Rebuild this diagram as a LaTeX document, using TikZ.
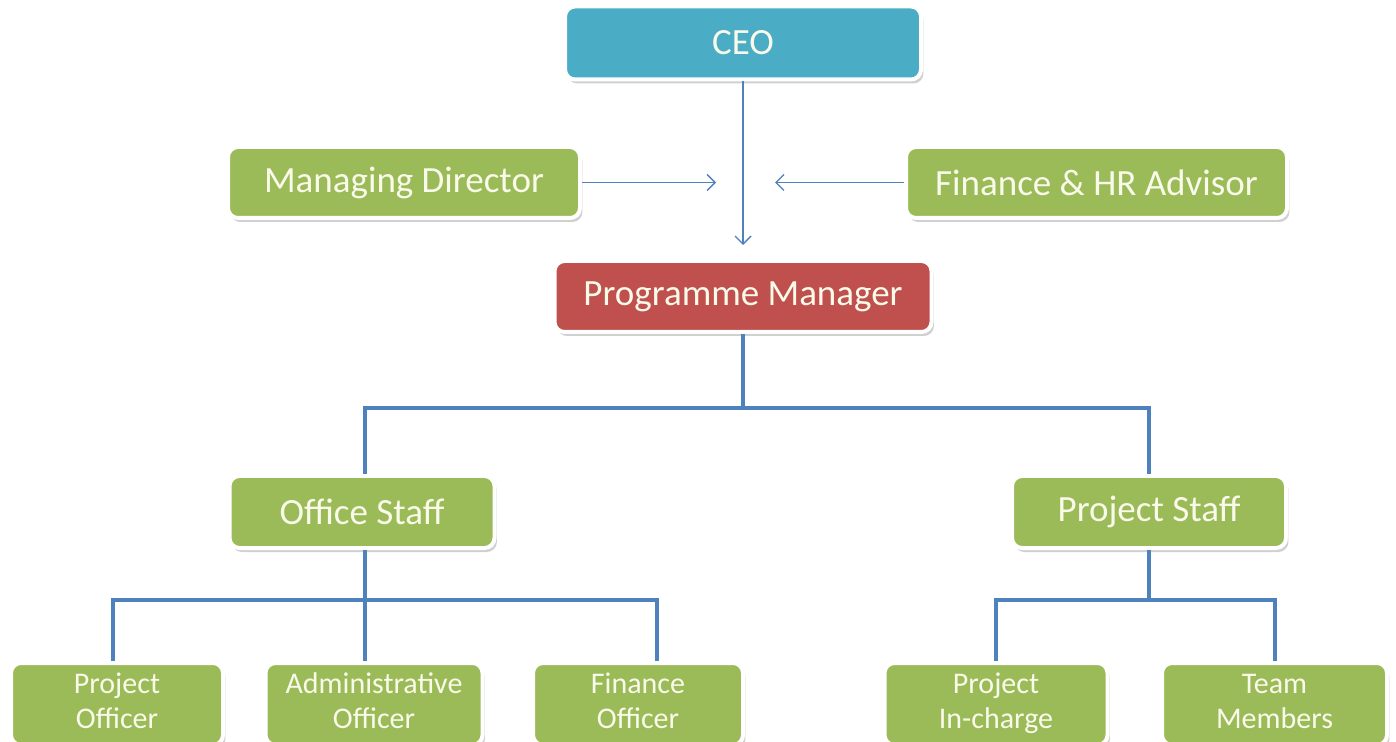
\documentclass[tikz,border=0pt]{standalone}
\usepackage{fontspec}
\setmainfont{Carlito}
\usetikzlibrary{shadows,arrows.meta}
\definecolor{ceoblue}{HTML}{4BACC6}
\definecolor{boxgreen}{HTML}{9BBB59}
\definecolor{boxred}{HTML}{C0504D}
\definecolor{linkblue}{HTML}{4F81BD}
\definecolor{txtcream}{HTML}{FAFAEA}
\newcommand\twoline[2]{\raisebox{2pt}{\begin{tabular}{@{}c@{}}#1\strut\\#2\strut\end{tabular}}}
\begin{document}
\begin{tikzpicture}[x=0.5pt,y=-0.5pt,
  box/.style={rectangle, rounded corners=5pt, draw=white, line width=2pt,
    text=txtcream, inner sep=0pt, align=center,
    drop shadow={shadow xshift=1.2pt, shadow yshift=-2pt, opacity=0.3, fill=black!60}},
  big/.style={box, font=\fontsize{18.5}{22}\selectfont},
  small/.style={box, font=\fontsize{15}{17.5}\selectfont, fill=boxgreen, minimum height=41pt},
  bus/.style={draw=linkblue, line width=2pt},
  thin/.style={draw=linkblue, line width=0.7pt, -{Straight Barb[length=4pt,width=8pt]}}
]
\useasboundingbox (0,0) rectangle (1396,742);
\fill[white] (0,0) rectangle (1396,742);

\node[big, fill=ceoblue, minimum width=178pt, minimum height=36.5pt] (ceo) at (743,43) {CEO};
\node[big, fill=boxgreen, minimum width=176pt, minimum height=35.5pt] (md) at (404,182.5) {Managing Director};
\node[big, fill=boxgreen, minimum width=190.5pt, minimum height=35.5pt] (fhr) at (1096.5,182.5) {Finance \& HR Advisor};
\node[big, fill=boxred, minimum width=188.5pt, minimum height=35.5pt] (pm) at (743,296.5) {Programme Manager};
\node[big, fill=boxgreen, minimum width=132.5pt, minimum height=36pt] (os) at (362,512) {Office Staff};
\node[big, fill=boxgreen, minimum width=137pt, minimum height=36pt] (ps) at (1149,512) {Project Staff};

\node[small, minimum width=106pt] (po) at (117,704) {\twoline{Project}{Officer}};
\node[small, minimum width=108.5pt] (ao) at (374,704) {\twoline{Administrative}{Officer}};
\node[small, minimum width=105pt] (fo) at (638,704) {\twoline{Finance}{Officer}};
\node[small, minimum width=111.5pt] (pi) at (996,704) {\twoline{Project}{In-charge}};
\node[small, minimum width=112.5pt] (tm) at (1274.5,704) {\twoline{Team}{Members}};

\coordinate (ceoend) at (743,245);
\coordinate (mdend) at (716,182.5);
\coordinate (fhrend) at (775,182.5);
\coordinate (j1) at (743,408);
\coordinate (j2) at (365,600);
\coordinate (j3) at (1149,600);

\draw[thin] (ceo.south) -- (ceoend);
\draw[thin] (md.east) -- (mdend);
\draw[thin] (fhr.west) -- (fhrend);

\draw[bus] (pm.south) -- (j1);
\draw[bus] ([xshift=1.5pt]os.north) |- (j1) -| (ps.north);
\draw[bus] ([xshift=1.5pt]os.south) -- (j2);
\draw[bus] ([xshift=-2pt]po.north) |- (j2) -| ([xshift=9.5pt]fo.north);
\draw[bus] (j2) -- (j2 |- ao.north);
\draw[bus] (ps.south) -- (j3);
\draw[bus] (pi.north) |- (j3) -| (tm.north);
\end{tikzpicture}
\end{document}
